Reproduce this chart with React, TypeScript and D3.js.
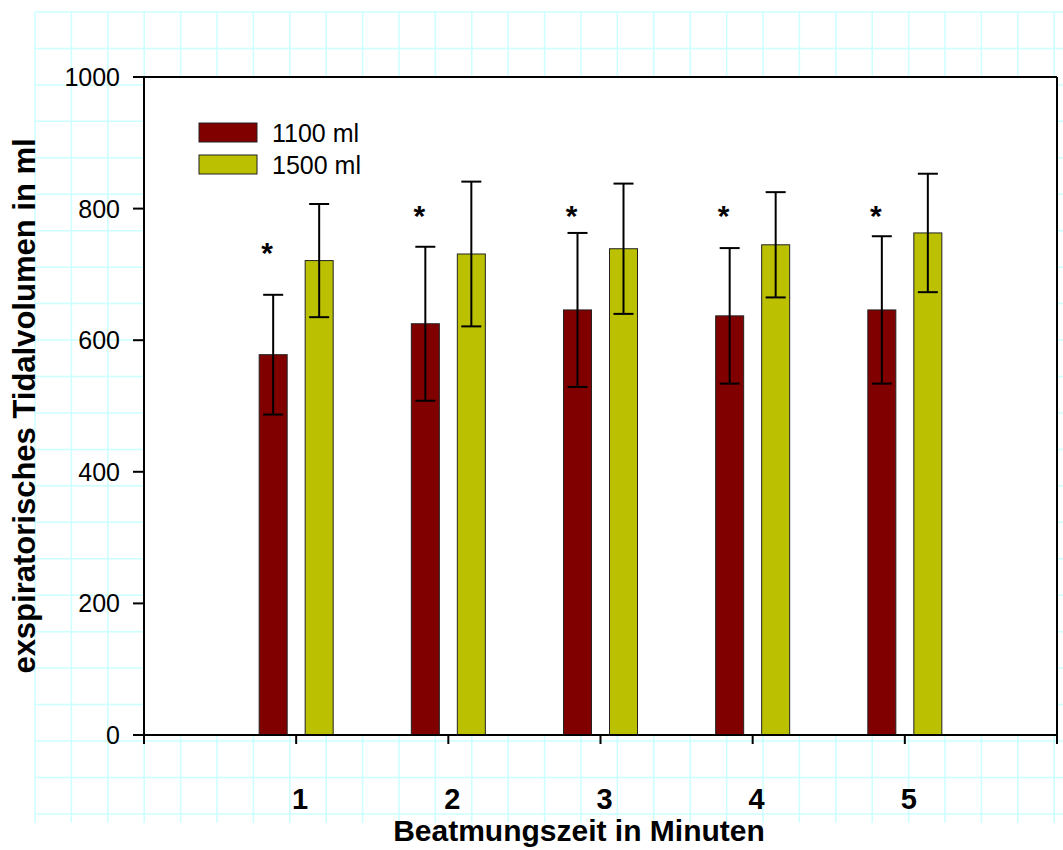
import React from "react";
import * as d3 from "d3";

const categories = ["1", "2", "3", "4", "5"];
const seriesNames = ["1100 ml", "1500 ml"];
const mean1100 = [578, 625, 646, 637, 646];
const sd1100 = [91, 117, 117, 103, 112];
const mean1500 = [721, 731, 739, 745, 763];
const sd1500 = [86, 110, 99, 80, 90];
const starY = [717, 773, 773, 773, 773];
const yTicks = [0, 200, 400, 600, 800, 1000];

const W = 1063;
const H = 850;
const colors = ["#800000", "#bbc000"];

export default function App() {
  const left = 144, right = 1057, top = 77, bottom = 735;
  const y = d3.scaleLinear().domain([0, 1000]).range([bottom, top]);
  const x = d3.scaleLinear().domain([0, categories.length + 1]).range([left, right]);
  const xTickVals = d3.range(0, categories.length + 2);
  const off = 23, bw = 28, cap = 10;

  const gridXs = d3.range(0, 29).map((k) => 35 + k * 36.4);
  const gridYs = d3.range(0, 23).map((k) => 12 + k * 36.45);

  const series = [
    { m: mean1100, s: sd1100, dx: -off },
    { m: mean1500, s: sd1500, dx: off },
  ];

  return (
    <svg width={W} height={H} style={{ position: "absolute", left: 0, top: 0 }} fontFamily="Liberation Sans, Arial, sans-serif">
      <rect x={0} y={0} width={W} height={H} fill="#fff" />
      {gridYs.map((gy, i) => (
        <line key={"gy" + i} x1={35} x2={W} y1={gy} y2={gy} stroke="#ccffff" strokeWidth={1.5} />
      ))}
      {gridXs.map((gx, i) => (
        <line key={"gx" + i} x1={gx} x2={gx} y1={12} y2={823} stroke="#ccffff" strokeWidth={1.5} />
      ))}
      <rect x={left} y={top} width={right - left} height={bottom - top} fill="#fff" />

      {series.map((sr, si) =>
        categories.map((c, i) => {
          const cx = x(i + 1) + sr.dx;
          return (
            <rect key={`b${si}-${i}`} x={cx - bw / 2} y={y(sr.m[i])} width={bw} height={bottom - y(sr.m[i])}
              fill={colors[si]} stroke="#222" strokeWidth={1} />
          );
        })
      )}
      {series.map((sr, si) =>
        categories.map((c, i) => {
          const cx = x(i + 1) + sr.dx;
          const hi = y(sr.m[i] + sr.s[i]);
          const lo = y(sr.m[i] - sr.s[i]);
          return (
            <g key={`e${si}-${i}`} stroke="#000" strokeWidth={2}>
              <line x1={cx} x2={cx} y1={hi} y2={lo} />
              <line x1={cx - cap} x2={cx + cap} y1={hi} y2={hi} />
              <line x1={cx - cap} x2={cx + cap} y1={lo} y2={lo} />
            </g>
          );
        })
      )}
      {categories.map((c, i) => (
        <text key={"s" + i} x={x(i + 1) - off - 6} y={y(starY[i])} textAnchor="middle" fontSize={30} fontWeight="bold">*</text>
      ))}

      <g stroke="#000" strokeWidth={2} fill="none">
        <line x1={left} x2={left} y1={top} y2={bottom} />
        <line x1={left} x2={right} y1={top} y2={top} />
        <line x1={right} x2={right} y1={top} y2={bottom + 9} />
        <line x1={left} x2={right} y1={bottom} y2={bottom} />
        {yTicks.map((t) => (
          <line key={"yt" + t} x1={left - 11} x2={left} y1={y(t)} y2={y(t)} />
        ))}
        {xTickVals.map((t) => (
          <line key={"xt" + t} x1={x(t)} x2={x(t)} y1={bottom} y2={bottom + 9} />
        ))}
      </g>
      {yTicks.map((t) => (
        <text key={"yl" + t} x={120} y={y(t) + 9} textAnchor="end" fontSize={25}>{t}</text>
      ))}
      {categories.map((c, i) => (
        <text key={"xl" + i} x={x(i + 1) + 4} y={809} textAnchor="middle" fontSize={29} fontWeight="bold">{c}</text>
      ))}
      <text x={579} y={841} textAnchor="middle" fontSize={30} fontWeight="bold">Beatmungszeit in Minuten</text>
      <text transform="translate(35,406) rotate(-90)" textAnchor="middle" fontSize={31} fontWeight="bold">exspiratorisches Tidalvolumen in ml</text>

      {seriesNames.map((n, i) => (
        <g key={"lg" + i}>
          <rect x={199} y={123 + i * 32} width={58} height={19} fill={colors[i]} stroke="#222" strokeWidth={1} />
          <text x={272} y={142 + i * 32} fontSize={25}>{n}</text>
        </g>
      ))}
    </svg>
  );
}
